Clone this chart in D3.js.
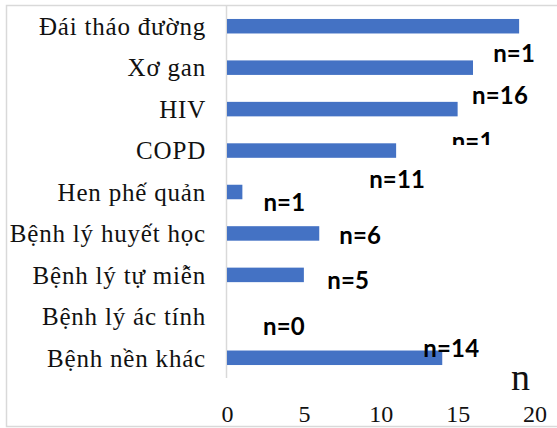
<!DOCTYPE html>
<html>
<head>
<meta charset="utf-8">
<script src="https://cdn.jsdelivr.net/npm/d3@7/dist/d3.min.js"></script>
<style>
  html, body { margin: 0; padding: 0; background: #fff; }
  svg { display: block; }
</style>
</head>
<body>
<svg id="chart" width="557" height="428"></svg>
<script>
// Comorbidities and their counts
const categories = ["Đái tháo đường", "Xơ gan", "HIV", "COPD", "Hen phế quản",
  "Bệnh lý huyết học", "Bệnh lý tự miễn", "Bệnh lý ác tính", "Bệnh nền khác"];
const counts = [19, 16, 15, 11, 1, 6, 5, 0, 14];
const xTicks = [0, 5, 10, 15, 20];
const axisTitle = "n";

// Hand placement of each "n=" label relative to its bar end and row centre.
// keepChars: label box only shows that many characters; clipBottom: box ends this far below baseline.
const labelPlacement = [
  { dx: -26, dy: 36, keepChars: 3 },
  { dx: -1,  dy: 36 },
  { dx: -6,  dy: 41, keepChars: 3, clipBottom: -5 },
  { dx: -27, dy: 37.5 },
  { dx: 21,  dy: 19 },
  { dx: 20,  dy: 10.7 },
  { dx: 23.4, dy: 13.7 },
  { dx: 36,  dy: 19 },
  { dx: -19, dy: -0.7 }
];

const svg = d3.select("#chart");
const W = 557;

// Outer chart frame
svg.append("rect")
  .attr("x", 6.5).attr("y", 5.5)
  .attr("width", W + 10).attr("height", 421)
  .attr("fill", "#fff")
  .attr("stroke", "#d9d9d9").attr("stroke-width", 1.5);

const x = d3.scaleLinear().domain([0, 20]).range([227, 534.5]);
const y = d3.scaleBand().domain(categories).range([5.5, 378.5])
  .paddingInner(0.65).paddingOuter(0.325);

// Category axis line
svg.append("line")
  .attr("x1", x(0) - 0.5).attr("x2", x(0) - 0.5)
  .attr("y1", 5.5).attr("y2", 378)
  .attr("stroke", "#d9d9d9").attr("stroke-width", 1.5);

// Bars
svg.append("g").selectAll("rect")
  .data(categories)
  .join("rect")
  .attr("x", x(0))
  .attr("y", d => y(d))
  .attr("width", (d, i) => x(counts[i]) - x(0))
  .attr("height", y.bandwidth())
  .attr("fill", "#4472C4");

// Category labels
svg.append("g").selectAll("text")
  .data(categories)
  .join("text")
  .attr("x", 206)
  .attr("y", d => y(d) + y.bandwidth() / 2)
  .attr("dy", "0.35em")
  .attr("text-anchor", "end")
  .attr("font-family", "Liberation Serif, Times New Roman, serif")
  .attr("font-size", 25)
  .attr("letter-spacing", 0.8)
  .attr("fill", "#111")
  .text(d => d);

// Value axis tick labels
const xAxis = d3.axisBottom(x).tickValues(xTicks).tickSize(0).tickPadding(0);
const gx = svg.append("g").attr("transform", "translate(0,405)").call(xAxis);
gx.select(".domain").remove();
gx.selectAll("text")
  .attr("font-family", "Liberation Serif, Times New Roman, serif")
  .attr("font-size", 24)
  .attr("fill", "#111");

// Axis title
svg.append("text")
  .attr("x", 520.5).attr("y", 390)
  .attr("text-anchor", "middle")
  .attr("font-family", "Liberation Serif, Times New Roman, serif")
  .attr("font-size", 38)
  .attr("fill", "#111")
  .text(axisTitle);

// Value labels
const defs = svg.append("defs");
const labels = svg.append("g");
categories.forEach((c, i) => {
  const p = labelPlacement[i];
  const lx = x(counts[i]) + p.dx;
  const ly = y(c) + y.bandwidth() / 2 + p.dy;
  const t = labels.append("text")
    .attr("x", lx).attr("y", ly)
    .attr("font-family", "Lato, Carlito, Calibri, sans-serif")
    .attr("font-weight", "bold")
    .attr("font-size", 24)
    .attr("letter-spacing", 0.2)
    .attr("fill", "#000")
    .text(`n=${counts[i]}`);
  if (p.keepChars !== undefined || p.clipBottom !== undefined) {
    const node = t.node();
    const n = node.getNumberOfChars();
    const keep = p.keepChars !== undefined ? Math.min(p.keepChars, n) : n;
    const w = node.getSubStringLength(0, keep);
    const id = `lblclip${i}`;
    defs.append("clipPath").attr("id", id)
      .append("rect")
      .attr("x", lx - 2).attr("y", ly - 30)
      .attr("width", w + 2)
      .attr("height", 30 + (p.clipBottom !== undefined ? p.clipBottom : 10));
    t.attr("clip-path", `url(#${id})`);
  }
});
</script>
</body>
</html>
